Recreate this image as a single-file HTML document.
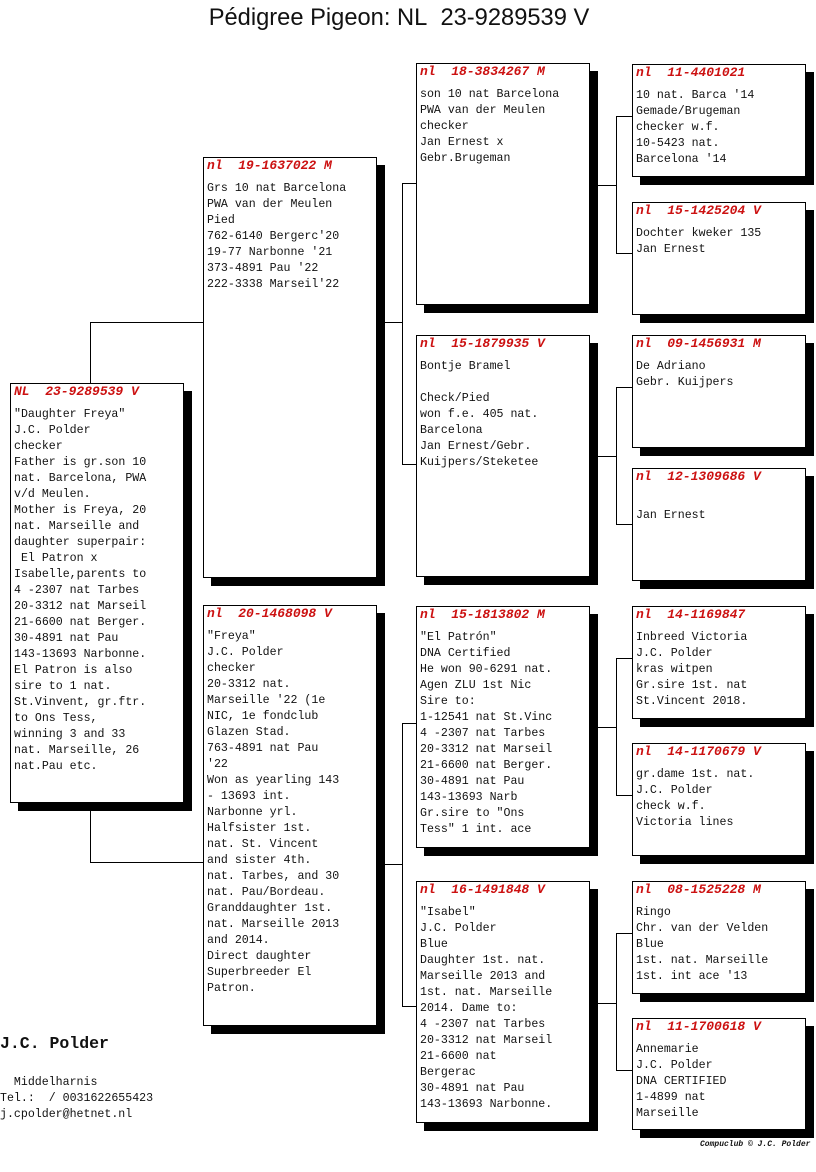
<!DOCTYPE html>
<html><head><meta charset="utf-8"><style>
html,body{margin:0;padding:0;background:#fff;}
body{width:816px;height:1172px;position:relative;overflow:hidden;font-family:"Liberation Mono",monospace;font-size:11.6px;color:#111;}
.b{position:absolute;background:#fff;border:1px solid #000;box-shadow:8px 8px 0 #000;box-sizing:border-box;}
.h{position:absolute;left:3px;top:0;line-height:16px;font-size:13px;color:#cc1111;font-weight:bold;font-style:italic;white-space:pre;}
.t{position:absolute;left:3px;top:23px;line-height:16px;white-space:pre;}
.l{position:absolute;background:#000;}
</style></head><body>
<div style="position:absolute;left:0;width:798px;top:3px;text-align:center;font-family:'Liberation Sans',sans-serif;font-size:23.7px;line-height:30px;">Pédigree Pigeon: NL&nbsp; 23-9289539 V</div>

<!-- connectors -->
<div class="l" style="left:90px;top:322px;width:1px;height:541px"></div>
<div class="l" style="left:90px;top:322px;width:113px;height:1px"></div>
<div class="l" style="left:90px;top:862px;width:113px;height:1px"></div>

<div class="l" style="left:376px;top:322px;width:26px;height:1px"></div>
<div class="l" style="left:402px;top:183px;width:1px;height:282px"></div>
<div class="l" style="left:402px;top:183px;width:14px;height:1px"></div>
<div class="l" style="left:402px;top:464px;width:14px;height:1px"></div>

<div class="l" style="left:376px;top:864px;width:26px;height:1px"></div>
<div class="l" style="left:402px;top:723px;width:1px;height:284px"></div>
<div class="l" style="left:402px;top:723px;width:14px;height:1px"></div>
<div class="l" style="left:402px;top:1006px;width:14px;height:1px"></div>

<div class="l" style="left:589px;top:185px;width:27px;height:1px"></div>
<div class="l" style="left:616px;top:116px;width:1px;height:138px"></div>
<div class="l" style="left:616px;top:116px;width:16px;height:1px"></div>
<div class="l" style="left:616px;top:253px;width:16px;height:1px"></div>

<div class="l" style="left:589px;top:456px;width:27px;height:1px"></div>
<div class="l" style="left:616px;top:387px;width:1px;height:138px"></div>
<div class="l" style="left:616px;top:387px;width:16px;height:1px"></div>
<div class="l" style="left:616px;top:524px;width:16px;height:1px"></div>

<div class="l" style="left:589px;top:727px;width:27px;height:1px"></div>
<div class="l" style="left:616px;top:658px;width:1px;height:138px"></div>
<div class="l" style="left:616px;top:658px;width:16px;height:1px"></div>
<div class="l" style="left:616px;top:795px;width:16px;height:1px"></div>

<div class="l" style="left:589px;top:1003px;width:27px;height:1px"></div>
<div class="l" style="left:616px;top:933px;width:1px;height:138px"></div>
<div class="l" style="left:616px;top:933px;width:16px;height:1px"></div>
<div class="l" style="left:616px;top:1070px;width:16px;height:1px"></div>

<!-- subject -->
<div class="b" style="left:10px;top:383px;width:174px;height:420px">
<div class="h">NL  23-9289539 V</div>
<div class="t">"Daughter Freya"
J.C. Polder
checker
Father is gr.son 10
nat. Barcelona, PWA
v/d Meulen.
Mother is Freya, 20
nat. Marseille and
daughter superpair:
 El Patron x
Isabelle,parents to
4 -2307 nat Tarbes
20-3312 nat Marseil
21-6600 nat Berger.
30-4891 nat Pau
143-13693 Narbonne.
El Patron is also
sire to 1 nat.
St.Vinvent, gr.ftr.
to Ons Tess,
winning 3 and 33
nat. Marseille, 26
nat.Pau etc.</div></div>

<!-- parents -->
<div class="b" style="left:203px;top:157px;width:174px;height:421px">
<div class="h">nl  19-1637022 M</div>
<div class="t">Grs 10 nat Barcelona
PWA van der Meulen
Pied
762-6140 Bergerc'20
19-77 Narbonne '21
373-4891 Pau '22
222-3338 Marseil'22</div></div>

<div class="b" style="left:203px;top:605px;width:174px;height:421px">
<div class="h">nl  20-1468098 V</div>
<div class="t">"Freya"
J.C. Polder
checker
20-3312 nat.
Marseille '22 (1e
NIC, 1e fondclub
Glazen Stad.
763-4891 nat Pau
'22
Won as yearling 143
- 13693 int.
Narbonne yrl.
Halfsister 1st.
nat. St. Vincent
and sister 4th.
nat. Tarbes, and 30
nat. Pau/Bordeau.
Granddaughter 1st.
nat. Marseille 2013
and 2014.
Direct daughter
Superbreeder El
Patron.</div></div>

<!-- gen3 -->
<div class="b" style="left:416px;top:63px;width:174px;height:242px">
<div class="h">nl  18-3834267 M</div>
<div class="t">son 10 nat Barcelona
PWA van der Meulen
checker
Jan Ernest x
Gebr.Brugeman</div></div>

<div class="b" style="left:416px;top:335px;width:174px;height:242px">
<div class="h">nl  15-1879935 V</div>
<div class="t">Bontje Bramel

Check/Pied
won f.e. 405 nat.
Barcelona
Jan Ernest/Gebr.
Kuijpers/Steketee</div></div>

<div class="b" style="left:416px;top:606px;width:174px;height:242px">
<div class="h">nl  15-1813802 M</div>
<div class="t">"El Patrón"
DNA Certified
He won 90-6291 nat.
Agen ZLU 1st Nic
Sire to:
1-12541 nat St.Vinc
4 -2307 nat Tarbes
20-3312 nat Marseil
21-6600 nat Berger.
30-4891 nat Pau
143-13693 Narb
Gr.sire to "Ons
Tess" 1 int. ace</div></div>

<div class="b" style="left:416px;top:881px;width:174px;height:242px">
<div class="h">nl  16-1491848 V</div>
<div class="t">"Isabel"
J.C. Polder
Blue
Daughter 1st. nat.
Marseille 2013 and
1st. nat. Marseille
2014. Dame to:
4 -2307 nat Tarbes
20-3312 nat Marseil
21-6600 nat
Bergerac
30-4891 nat Pau
143-13693 Narbonne.</div></div>

<!-- gen4 -->
<div class="b" style="left:632px;top:64px;width:174px;height:113px">
<div class="h">nl  11-4401021</div>
<div class="t">10 nat. Barca '14
Gemade/Brugeman
checker w.f.
10-5423 nat.
Barcelona '14</div></div>

<div class="b" style="left:632px;top:202px;width:174px;height:113px">
<div class="h">nl  15-1425204 V</div>
<div class="t">Dochter kweker 135
Jan Ernest</div></div>

<div class="b" style="left:632px;top:335px;width:174px;height:113px">
<div class="h">nl  09-1456931 M</div>
<div class="t">De Adriano
Gebr. Kuijpers</div></div>

<div class="b" style="left:632px;top:468px;width:174px;height:113px">
<div class="h">nl  12-1309686 V</div>
<div class="t">
Jan Ernest</div></div>

<div class="b" style="left:632px;top:606px;width:174px;height:113px">
<div class="h">nl  14-1169847</div>
<div class="t">Inbreed Victoria
J.C. Polder
kras witpen
Gr.sire 1st. nat
St.Vincent 2018.</div></div>

<div class="b" style="left:632px;top:743px;width:174px;height:113px">
<div class="h">nl  14-1170679 V</div>
<div class="t">gr.dame 1st. nat.
J.C. Polder
check w.f.
Victoria lines</div></div>

<div class="b" style="left:632px;top:881px;width:174px;height:113px">
<div class="h">nl  08-1525228 M</div>
<div class="t">Ringo
Chr. van der Velden
Blue
1st. nat. Marseille
1st. int ace '13</div></div>

<div class="b" style="left:632px;top:1018px;width:174px;height:112px">
<div class="h">nl  11-1700618 V</div>
<div class="t">Annemarie
J.C. Polder
DNA CERTIFIED
1-4899 nat
Marseille</div></div>

<!-- footer -->
<div style="position:absolute;left:0;top:1034px;font-weight:bold;font-size:16.5px;line-height:20px;white-space:pre">J.C. Polder</div>
<div style="position:absolute;left:0;top:1075px;line-height:16px;white-space:pre">  Middelharnis
Tel.:  / 0031622655423
j.cpolder@hetnet.nl</div>
<div style="position:absolute;left:700px;top:1140px;font-size:8px;font-weight:bold;font-style:italic;white-space:pre">Compuclub © J.C. Polder</div>
</body></html>
